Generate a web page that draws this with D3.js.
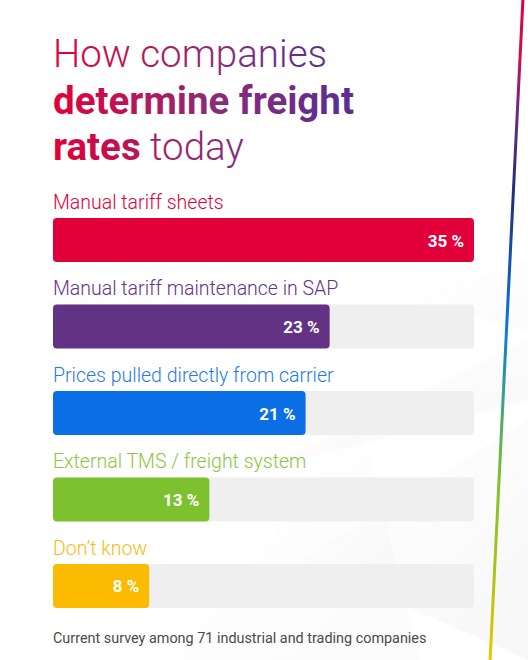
<!DOCTYPE html>
<html>
<head>
<meta charset="utf-8">
<script src="https://cdn.jsdelivr.net/npm/d3@7"></script>
<style>
  html, body { margin: 0; padding: 0; background: #fff; }
  svg { display: block; font-family: Roboto, "Open Sans", sans-serif; }
</style>
</head>
<body>
<div id="chart"></div>
<script>
// datos de la encuesta
const categories = [
  "Manual tariff sheets",
  "Manual tariff maintenance in SAP",
  "Prices pulled directly from carrier",
  "External TMS / freight system",
  "Don\u2019t know"
];
const values = [35, 23, 21, 13, 8];
const valueLabels = ["35 %", "23 %", "21 %", "13 %", "8 %"];

// paleta
const barColors = ["#e2003a", "#623384", "#0a6fe4", "#7dc22e", "#fcbb00"];
const textColors = ["#e2003a", "#623384", "#1f7be6", "#8cc63f", "#f9bb13"];

const W = 528, H = 660;

const svg = d3.select("#chart").append("svg")
  .attr("width", W).attr("height", H);

const defs = svg.append("defs");

// gradiente del titulo
const tg = defs.append("linearGradient")
  .attr("id", "titleGrad")
  .attr("gradientUnits", "userSpaceOnUse")
  .attr("x1", 53).attr("y1", 0).attr("x2", 340).attr("y2", 0);
tg.append("stop").attr("offset", "0%").attr("stop-color", "#e2003a");
tg.append("stop").attr("offset", "55%").attr("stop-color", "#8e2a78");
tg.append("stop").attr("offset", "100%").attr("stop-color", "#5c2e8f");

// gradiente de la linea de la derecha
const lg = defs.append("linearGradient")
  .attr("id", "lineGrad")
  .attr("gradientUnits", "userSpaceOnUse")
  .attr("x1", 0).attr("y1", 0).attr("x2", 0).attr("y2", H);
[[0, "#e2003a"], [0.1, "#c8104f"], [0.17, "#6a2a86"], [0.3, "#1d2f7d"],
 [0.48, "#0a70e6"], [0.58, "#2a9a9a"], [0.72, "#7dc22e"], [0.86, "#a8c41c"], [1, "#f0c400"]]
  .forEach(s => lg.append("stop").attr("offset", s[0]).attr("stop-color", s[1]));

// sombras de fondo (facetas grises muy suaves)
const fg = defs.append("linearGradient").attr("id", "facet")
  .attr("x1", 0).attr("y1", 0).attr("x2", 1).attr("y2", 1);
fg.append("stop").attr("offset", "0%").attr("stop-color", "#000").attr("stop-opacity", 0.0);
fg.append("stop").attr("offset", "100%").attr("stop-color", "#000").attr("stop-opacity", 0.03);

const bg = svg.append("g");
bg.append("path").attr("d", "M528,340 L260,470 L528,400 Z").attr("fill", "url(#facet)");
bg.append("path").attr("d", "M528,420 L300,560 L528,660 Z").attr("fill", "url(#facet)");
bg.append("path").attr("d", "M360,420 L180,660 L420,660 Z").attr("fill", "url(#facet)").attr("opacity", 0.5);
bg.append("path").attr("d", "M400,300 L528,260 L528,330 Z").attr("fill", "url(#facet)").attr("opacity", 0.5);

// titulo
const title = svg.append("text")
  .attr("x", 53)
  .attr("fill", "url(#titleGrad)")
  .style("font-size", "38.5px");
title.append("tspan").attr("x", 53).attr("y", 67).style("font-weight", 300).text("How companies");
title.append("tspan").attr("x", 53).attr("y", 114).style("font-weight", 700).text("determine freight");
const l3 = title.append("tspan").attr("x", 53).attr("y", 160);
l3.append("tspan").style("font-weight", 700).text("rates");
l3.append("tspan").style("font-weight", 300).text(" today");

// escalas
const x = d3.scaleLinear().domain([0, d3.max(values)]).range([53, 474]);
const y = d3.scaleBand().domain(categories).range([218, 608])
  .paddingInner(0.491).paddingOuter(0).align(0);

const rows = svg.append("g").selectAll("g")
  .data(categories)
  .join("g");

// fondo de cada barra
rows.append("rect")
  .attr("x", x(0))
  .attr("y", d => y(d))
  .attr("width", x(d3.max(values)) - x(0))
  .attr("height", y.bandwidth())
  .attr("rx", 4)
  .attr("fill", "#efefef");

rows.append("rect")
  .attr("x", x(0))
  .attr("y", d => y(d))
  .attr("width", (d, i) => x(values[i]) - x(0))
  .attr("height", y.bandwidth())
  .attr("rx", 4)
  .attr("fill", (d, i) => barColors[i]);

rows.append("text")
  .attr("x", x(0))
  .attr("y", d => y(d) - 9)
  .attr("fill", (d, i) => textColors[i])
  .style("font-size", "19.5px")
  .style("font-weight", 300)
  .text(d => d);

rows.append("text")
  .attr("x", (d, i) => x(values[i]) - 10)
  .attr("y", d => y(d) + y.bandwidth() / 2 + 6.5)
  .attr("text-anchor", "end")
  .attr("fill", "#fff")
  .style("font-size", "17px")
  .style("font-weight", 700)
  .text((d, i) => valueLabels[i]);

// nota al pie
svg.append("text")
  .attr("x", 53).attr("y", 643)
  .attr("fill", "#4a4a4a")
  .style("font-size", "14.4px")
  .style("font-weight", 400)
  .text("Current survey among 71 industrial and trading companies");

// linea de color a la derecha
svg.append("line")
  .attr("x1", 523).attr("y1", -2)
  .attr("x2", 490).attr("y2", H + 2)
  .attr("stroke", "url(#lineGrad)")
  .attr("stroke-width", 3);
</script>
</body>
</html>
